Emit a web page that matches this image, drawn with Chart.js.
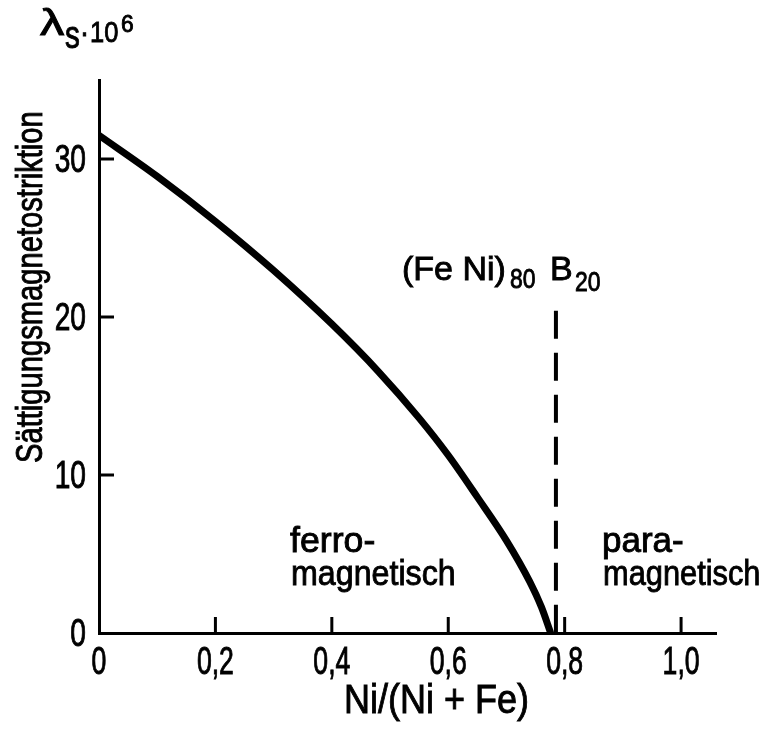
<!DOCTYPE html>
<html>
<head>
<meta charset="utf-8">
<script src="https://cdn.jsdelivr.net/npm/chart.js@4/dist/chart.umd.min.js"></script>
<style>
  html, body { margin: 0; padding: 0; background: #fff; }
  canvas { display: block; }
</style>
</head>
<body>
<canvas id="grafico" width="765" height="744"></canvas>
<script>
// Ni/(Ni+Fe) und Sättigungsmagnetostriktion
const niAnteil = [0, 0.1, 0.2, 0.3, 0.4, 0.48, 0.55, 0.6, 0.65, 0.7, 0.74, 0.76, 0.776];
const lambdaS  = [31.5, 28.9, 26.05, 22.95, 19.55, 16.55, 13.6, 11.25, 8.6, 5.85, 3.25, 1.65, 0];

// Grenze ferro-/paramagnetisch
const grenzeX = [0.785, 0.785];
const grenzeY = [20.4, 0];

const xTicks = [0, 0.2, 0.4, 0.6, 0.8, 1.0];
const yTicks = [0, 10, 20, 30];

const SCHRIFT = "'Liberation Sans', 'DejaVu Sans', sans-serif";

// Text mit horizontaler Stauchung, leicht verstärkt
function txt(c, s, x, y, size, sq, align) {
  c.save();
  c.translate(x, y);
  c.scale(sq, 1);
  c.font = size + 'px ' + SCHRIFT;
  c.fillStyle = '#000';
  c.strokeStyle = '#000';
  c.lineWidth = 0.9;
  c.textAlign = align || 'left';
  c.textBaseline = 'alphabetic';
  c.fillText(s, 0, 0);
  c.strokeText(s, 0, 0);
  c.restore();
}

const fmtX = v => v === 0 ? '0' : v.toFixed(1).replace('.', ',');

const beschriftung = {
  id: 'beschriftung',
  afterDraw(chart) {
    const c = chart.ctx;
    const xs = chart.scales.x, ys = chart.scales.y;
    const x0 = xs.getPixelForValue(0), y0 = ys.getPixelForValue(0);

    // Teilstriche nach innen
    c.save();
    c.strokeStyle = '#000';
    c.lineWidth = 3;
    xs.ticks.forEach(t => {
      if (t.value === 0) return;
      const px = xs.getPixelForValue(t.value);
      c.beginPath();
      c.moveTo(px, y0);
      c.lineTo(px, y0 - 16);
      c.stroke();
    });
    ys.ticks.forEach(t => {
      if (t.value === 0) return;
      const py = ys.getPixelForValue(t.value);
      c.beginPath();
      c.moveTo(x0, py);
      c.lineTo(x0 + 15, py);
      c.stroke();
    });
    c.restore();

    // Teilstrichbeschriftung (schmale Normschrift)
    xs.ticks.forEach(t => {
      txt(c, fmtX(t.value), xs.getPixelForValue(t.value), 674, 38, 0.7, 'center');
    });
    ys.ticks.forEach(t => {
      txt(c, String(t.value), 86, ys.getPixelForValue(t.value) + 13, 38, 0.74, 'right');
    });

    // Achsentitel
    txt(c, 'λ', 40, 35, 36, 1.35);
    txt(c, 's', 65, 48, 38, 0.78);
    txt(c, '·', 80, 42, 30, 0.9);
    txt(c, '10', 90, 42, 30, 0.85);
    txt(c, '6', 121, 32, 24, 0.95);

    c.save();
    c.translate(42, 463);
    c.rotate(-Math.PI / 2);
    c.scale(0.81, 1);
    c.font = '36px ' + SCHRIFT;
    c.fillStyle = '#000';
    c.strokeStyle = '#000';
    c.lineWidth = 0.9;
    c.fillText('Sättigungsmagnetostriktion', 0, 0);
    c.strokeText('Sättigungsmagnetostriktion', 0, 0);
    c.restore();

    txt(c, 'Ni/(Ni + Fe)', 344, 713, 40, 0.9);

    // Legierung
    txt(c, '(Fe Ni)', 402, 280, 34, 1.0);
    txt(c, '80', 510, 288, 27, 0.85);
    txt(c, 'B', 550, 280, 34, 1.0);
    txt(c, '20', 575, 291, 27, 0.85);

    // Bereiche
    txt(c, 'ferro-', 290, 552, 35, 1.02);
    txt(c, 'magnetisch', 291, 585, 35, 0.92);
    txt(c, 'para-', 602, 552, 35, 1.0);
    txt(c, 'magnetisch', 603, 585, 35, 0.88);
  }
};

const ctx = document.getElementById('grafico').getContext('2d');

const grafico = new Chart(ctx, {
  type: 'line',
  data: {
    datasets: [
      {
        label: 'λs',
        data: niAnteil.map((x, i) => ({ x: x, y: lambdaS[i] })),
        borderColor: '#000',
        borderWidth: 7,
        pointRadius: 0,
        cubicInterpolationMode: 'monotone',
        fill: false
      },
      {
        label: 'Grenze',
        data: grenzeX.map((x, i) => ({ x: x, y: grenzeY[i] })),
        borderColor: '#000',
        borderWidth: 4,
        borderDash: [28, 14],
        borderCapStyle: 'butt',
        pointRadius: 0,
        fill: false
      }
    ]
  },
  options: {
    animation: false,
    responsive: false,
    layout: { padding: { top: 80, right: 49, left: 0, bottom: 0 } },
    plugins: {
      legend: { display: false },
      tooltip: { enabled: false }
    },
    scales: {
      x: {
        type: 'linear',
        min: 0,
        max: 1.06,
        grid: { display: false },
        border: { display: true, color: '#000', width: 3 },
        afterFit: s => { s.height = 111; },
        afterBuildTicks: s => { s.ticks = xTicks.map(v => ({ value: v })); },
        ticks: { display: false }
      },
      y: {
        type: 'linear',
        min: 0,
        max: 35,
        grid: { display: false },
        border: { display: true, color: '#000', width: 3 },
        afterFit: s => { s.width = 99; },
        afterBuildTicks: s => { s.ticks = yTicks.map(v => ({ value: v })); },
        ticks: { display: false }
      }
    }
  },
  plugins: [beschriftung]
});
</script>
</body>
</html>
